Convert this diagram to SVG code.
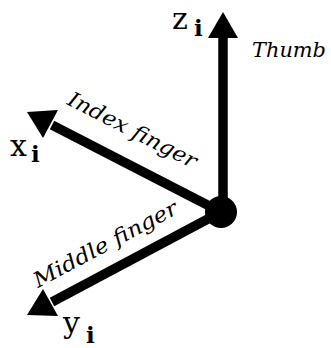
<svg xmlns="http://www.w3.org/2000/svg" width="331" height="348" viewBox="0 0 331 348">
<style>
.ax{stroke:#000;stroke-width:9.5;fill:none}
.hd{fill:#000}
.lbl{font-family:"DejaVu Serif","Liberation Serif",serif;font-size:30px;fill:#000}
.sub{font-family:"DejaVu Serif","Liberation Serif",serif;font-size:23px;fill:#000;font-weight:bold}
.it{font-family:"DejaVu Serif","Liberation Serif",serif;font-style:italic;font-size:21px;fill:#000}
</style>
<rect width="331" height="348" fill="#fff"/>
<g id="connectors">
<line class="ax" x1="223" y1="212" x2="223" y2="36"/>
<polygon class="hd" points="223,12 238,38 208,38"/>
<line class="ax" x1="221" y1="212" x2="52" y2="125"/>
<polygon class="hd" points="27,112 58,110 43,138"/>
<line class="ax" x1="221" y1="212" x2="52" y2="302"/>
<polygon class="hd" points="27,315 58,316 43,289"/>
</g>
<g id="origin"><circle cx="221" cy="212" r="16" fill="#000"/></g>
<g id="z-axis">
<text class="lbl" x="172" y="29">z</text><text class="sub" x="194" y="36">i</text>
<text class="it" x="252" y="57" textLength="74" lengthAdjust="spacingAndGlyphs">Thumb</text>
</g>
<g id="x-axis">
<text class="lbl" x="10" y="156">x</text><text class="sub" x="31" y="162">i</text>
<text class="it" transform="translate(66,104) rotate(27)" x="0" y="0" textLength="142" lengthAdjust="spacingAndGlyphs">Index finger</text>
</g>
<g id="y-axis">
<text class="lbl" x="63" y="333">y</text><text class="sub" x="86" y="343">i</text>
<text class="it" transform="translate(38,288) rotate(-28)" x="0" y="0" textLength="160" lengthAdjust="spacingAndGlyphs">Middle finger</text>
</g>
</svg>
